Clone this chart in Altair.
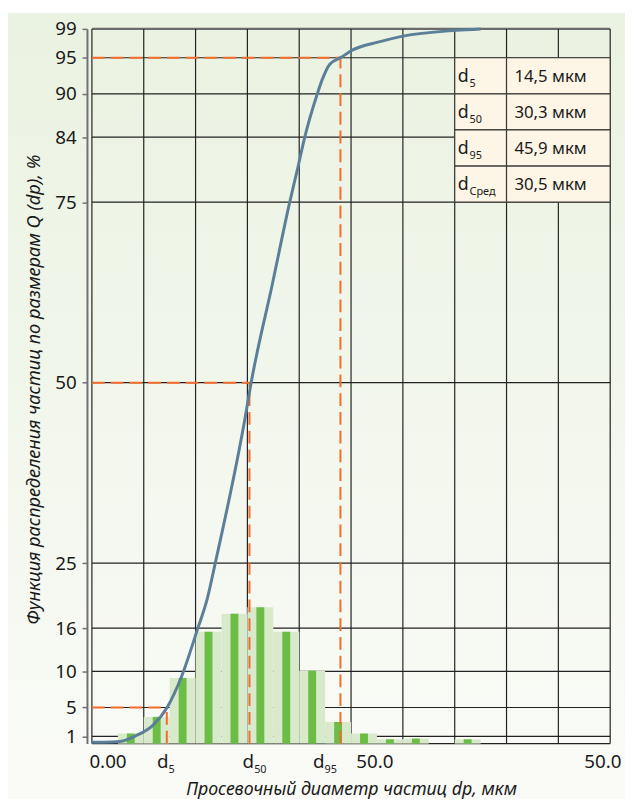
import altair as alt
import pandas as pd

# ---------------- data ----------------
y_ticks = [1, 5, 10, 16, 25, 50, 75, 84, 90, 95, 99]
x_grid = [0, 10, 20, 30, 40, 50, 60, 70, 80, 90, 100]

bin_lo = [5, 10, 15, 20, 25, 30, 35, 40, 45, 50, 55, 60, 65, 70]
bin_hi = [10, 15, 20, 25, 30, 35, 40, 45, 50, 55, 60, 65, 70, 75]
bin_pct = [1.4, 3.7, 9.1, 15.5, 18.0, 18.9, 15.5, 10.1, 3.0, 1.4, 0.6, 0.7, 0.0, 0.6]

curve_x = [0, 2.3, 5.4, 8.5, 11.7, 14.5, 17.3, 20.4, 22.3, 23.8, 29.5, 30.7, 34.8,
           38.2, 39.8, 41.0, 43.4, 44.4, 45.9, 48.2, 50.1, 55.4, 60.0, 70.3, 75.0]
curve_y = [0.2, 0.2, 0.3, 1.1, 2.5, 5.0, 9.3, 15.9, 20.2, 25.0, 44.9, 49.9, 63.6,
           75.1, 80.0, 83.8, 89.8, 91.9, 94.1, 95.1, 96.0, 97.2, 98.0, 98.8, 99.0]

d_pos = [14.45, 30.4, 47.95]
d_level = [5, 50, 95]

tbl_sub = ["5", "50", "95", "Сред"]
tbl_val = ["14,5 мкм", "30,3 мкм", "45,9 мкм", "30,5 мкм"]
tbl_top = [95, 90, 85, 80]
tbl_bot = [90, 85, 80, 75]

xl_pos = [3.1, 54.6, 98.6]
xl_txt = ["0.00", "50.0", "50.0"]
xd_pos = [14.8, 31.3, 44.9]
xd_sub = ["5", "50", "95"]

X_TITLE = "Просевочный диаметр частиц dp, мкм"
Y_TITLE = "Функция распределения частиц по размерам Q (dp), %"

FONT = "Noto Sans"
INK = "#1a1a1a"
GRID = "#222222"
ORANGE = "#f36c2c"

W, H = 535, 724

xscale = alt.Scale(domain=[0, 100], nice=False, zero=False)
yscale = alt.Scale(domain=[0, 99], nice=False, zero=False)
xaxis = alt.Axis(labels=False, ticks=False, domain=False, grid=False,
                 title=X_TITLE, titleFontSize=18, titleFont=FONT,
                 titleFontStyle="italic", titleFontWeight="normal",
                 titleColor=INK, titleBaseline="alphabetic", titleY=52, zindex=1)
yaxis = alt.Axis(values=y_ticks, grid=False, labelFontSize=19, labelFont=FONT,
                 labelColor=INK, tickColor="#707070", tickSize=5, tickWidth=1.5,
                 labelPadding=6, domainColor="#707070", domainWidth=2,
                 title=Y_TITLE, titleFontSize=18.5, titleFont=FONT,
                 titleFontStyle="italic", titleFontWeight="normal",
                 titleColor=INK, titleX=-48, titleY=365, titleAngle=-90,
                 titleBaseline="alphabetic", zindex=1)


def X(f):
    return alt.X(f, scale=xscale, axis=xaxis)


def Y(f):
    return alt.Y(f, scale=yscale, axis=yaxis)


# background gradient (decoration covering whole card)
bg_df = pd.DataFrame({"k": [0]})
bg = alt.Chart(bg_df).mark_rect(
    fill=alt.Gradient(gradient="linear",
                      stops=[alt.GradientStop(color="#eaf2e1", offset=0),
                             alt.GradientStop(color="#fafbf7", offset=1)],
                      x1=0, x2=0, y1=0, y2=1)
).encode(x=alt.value(-80), x2=alt.value(W + 10), y=alt.value(-16), y2=alt.value(H + 56))

# grid
hg = alt.Chart(pd.DataFrame({"v": [0] + y_ticks})).transform_calculate(
    zero="0", hundred="100").mark_rule().encode(
    x=X("zero:Q"), x2="hundred:Q", y=Y("v:Q"),
    color=alt.condition("datum.v == 99", alt.value("#6b6b6b"), alt.value(GRID)),
    strokeWidth=alt.condition("datum.v == 99", alt.value(2.5), alt.value(1.2)))
vg = alt.Chart(pd.DataFrame({"v": x_grid})).transform_calculate(
    zero="0", top="99").mark_rule(color=GRID, strokeWidth=1.2).encode(
    x=X("v:Q"), y=Y("zero:Q"), y2="top:Q")

bins = pd.DataFrame({"lo": bin_lo, "hi": bin_hi, "pct": bin_pct})
light = alt.Chart(bins).transform_calculate(zero="0").mark_rect(color="#d8eacb").encode(
    x=X("lo:Q"), x2="hi:Q", y=Y("zero:Q"), y2="pct:Q")
green = alt.Chart(bins).transform_calculate(
    mid="(datum.lo + datum.hi) / 2", zero="0").mark_bar(
    color="#6bbd45", size=8, orient="vertical").encode(
    x=X("mid:Q"), y=Y("pct:Q"), y2="zero:Q")

# table
cells = pd.DataFrame({
    "l": [70] * 4 + [80] * 4,
    "r": [80] * 4 + [100] * 4,
    "t": tbl_top * 2,
    "b": tbl_bot * 2,
})
tcell = alt.Chart(cells).mark_rect(fill="#fdf5e5", stroke="#3a3a3a", strokeWidth=1.2).encode(
    x=X("l:Q"), x2="r:Q", y=Y("b:Q"), y2="t:Q")
rows = pd.DataFrame({"sub": tbl_sub, "val": tbl_val, "t": tbl_top, "b": tbl_bot})
rows_c = alt.Chart(rows).transform_calculate(
    c="(datum.t + datum.b) / 2", lx="70", rx="80")
td = rows_c.mark_text(text="d", font=FONT, fontSize=18, color=INK, align="left",
                      baseline="alphabetic", dx=3, dy=6).encode(x=X("lx:Q"), y=Y("c:Q"))
ts = rows_c.mark_text(font=FONT, fontSize=11, color=INK, align="left",
                      baseline="alphabetic", dx=15, dy=11).encode(
    x=X("lx:Q"), y=Y("c:Q"), text="sub:N")
tv = rows_c.mark_text(font=FONT, fontSize=17, color=INK, align="left",
                      baseline="alphabetic", dx=8, dy=6).encode(
    x=X("rx:Q"), y=Y("c:Q"), text="val:N")

# orange dashed guides
dd = pd.DataFrame({"d": d_pos, "lev": d_level})
oh = alt.Chart(dd).transform_calculate(zero="0").mark_rule(
    color=ORANGE, strokeWidth=2, strokeDash=[13, 6]).encode(
    x=X("zero:Q"), x2="d:Q", y=Y("lev:Q"))
ov = alt.Chart(dd).transform_calculate(zero="0").mark_rule(
    color=ORANGE, strokeWidth=2, strokeDash=[13, 6]).encode(
    x=X("d:Q"), y=Y("zero:Q"), y2="lev:Q")

# curve
cdf = pd.DataFrame({"x": curve_x, "y": curve_y})
curve = alt.Chart(cdf).mark_line(interpolate="monotone", color="#5b7e99",
                                 strokeWidth=3).encode(x=X("x:Q"), y=Y("y:Q"))

# x labels
xl = alt.Chart(pd.DataFrame({"p": xl_pos, "t": xl_txt})).transform_calculate(zero="0").mark_text(
    font=FONT, fontSize=19, color=INK, align="center", baseline="alphabetic", dy=25).encode(
    x=X("p:Q"), y=Y("zero:Q"), text="t:N")
xdl = alt.Chart(pd.DataFrame({"p": xd_pos, "s": xd_sub})).transform_calculate(zero="0")
xd = xdl.mark_text(text="d", font=FONT, fontSize=19, color=INK, align="right",
                   baseline="alphabetic", dy=25).encode(x=X("p:Q"), y=Y("zero:Q"))
xs = xdl.mark_text(font=FONT, fontSize=11, color=INK, align="left",
                   baseline="alphabetic", dx=0, dy=30).encode(
    x=X("p:Q"), y=Y("zero:Q"), text="s:N")

chart = alt.layer(bg, hg, vg, light, green, tcell, td, ts, tv, oh, ov, curve, xl, xd, xs).properties(
    width=W, height=H,
    padding={"left": 80, "top": 16, "right": 10, "bottom": 56},
    autosize=alt.AutoSizeParams(type="none"),
    background="white",
).configure_view(stroke=None).configure(font=FONT)

chart.save("out.html", embed_options={"renderer": "svg", "actions": False})
